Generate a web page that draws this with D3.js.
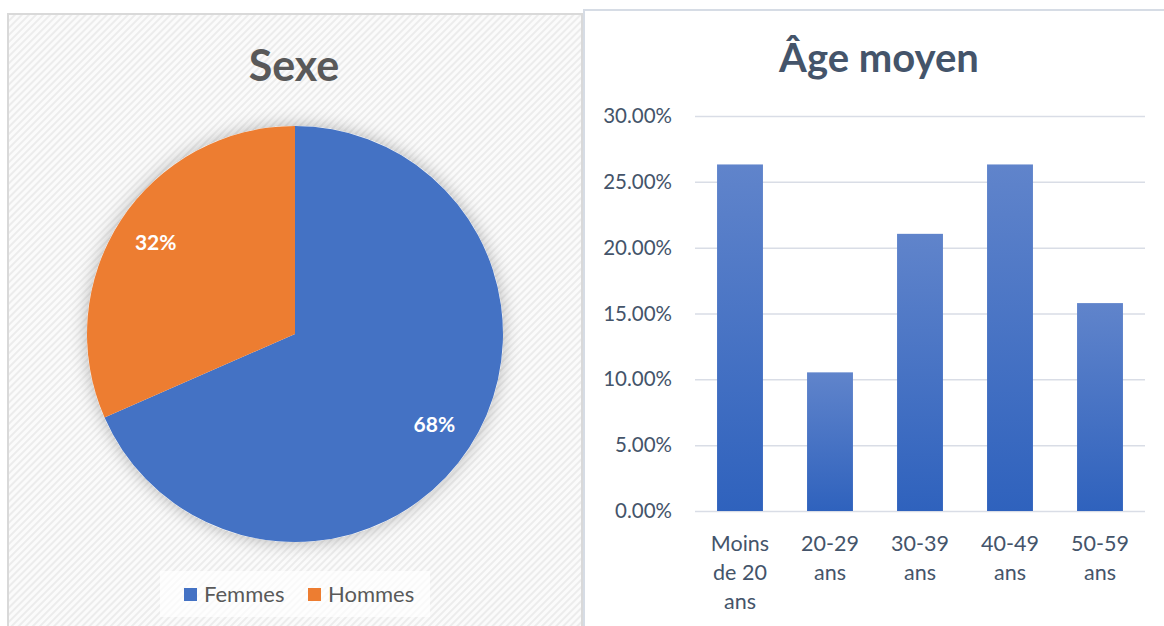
<!DOCTYPE html>
<html>
<head>
<meta charset="utf-8">
<script src="https://cdn.jsdelivr.net/npm/d3@7"></script>
<style>
  body { margin: 0; background: #fff; }
  svg { display: block; font-family: Lato, "Open Sans", sans-serif; }
</style>
</head>
<body>
<svg width="1164" height="626"></svg>
<script>
// data
const sexLabels = ['Femmes', 'Hommes'];
const sexCounts = [13, 6];
const sexColors = ['#4472c4', '#ed7d31'];

const ageGroups = [['Moins', 'de 20', 'ans'], ['20-29', 'ans'], ['30-39', 'ans'], ['40-49', 'ans'], ['50-59', 'ans']];
const ageShares = [0.2632, 0.1053, 0.2105, 0.2632, 0.1579];
const ageTicks = [0, 0.05, 0.10, 0.15, 0.20, 0.25, 0.30];

const svg = d3.select('svg');
const defs = svg.append('defs');

// hatched background for left panel
const pat = defs.append('pattern')
  .attr('id', 'hatch')
  .attr('width', 5).attr('height', 5)
  .attr('patternUnits', 'userSpaceOnUse')
  .attr('patternTransform', 'rotate(45)');
pat.append('rect').attr('width', 5).attr('height', 5).attr('fill', '#fbfbfb');
pat.append('rect').attr('width', 2).attr('height', 5).attr('fill', '#ececec');

const shadow = defs.append('filter').attr('id', 'pieShadow')
  .attr('x', '-20%').attr('y', '-20%').attr('width', '140%').attr('height', '140%');
shadow.append('feDropShadow')
  .attr('dx', 0).attr('dy', 0).attr('stdDeviation', 9)
  .attr('flood-color', '#000').attr('flood-opacity', 0.28);

const grad = defs.append('linearGradient').attr('id', 'barGrad')
  .attr('x1', 0).attr('y1', 0).attr('x2', 0).attr('y2', 1);
grad.append('stop').attr('offset', '0%').attr('stop-color', '#6084cb');
grad.append('stop').attr('offset', '100%').attr('stop-color', '#2f62bd');

// ---------- left panel: pie ----------
svg.append('rect')
  .attr('x', 8).attr('y', 14).attr('width', 574).attr('height', 620)
  .attr('fill', 'url(#hatch)')
  .attr('stroke', '#d9d9d9').attr('stroke-width', 2);

svg.append('text')
  .attr('x', 294).attr('y', 81)
  .attr('text-anchor', 'middle')
  .attr('font-size', 43).attr('font-weight', 'bold')
  .attr('fill', '#595959')
  .text('Sexe');

const pieG = svg.append('g').attr('transform', 'translate(295,334)');
const radius = 208;
const pie = d3.pie().sort(null)(sexCounts);
const arc = d3.arc().innerRadius(0).outerRadius(radius);
const total = d3.sum(sexCounts);

pieG.append('circle').attr('r', radius).attr('fill', '#fff').attr('filter', 'url(#pieShadow)');

pieG.selectAll('path.slice')
  .data(pie)
  .join('path')
  .attr('class', 'slice')
  .attr('d', arc)
  .attr('fill', (d, i) => sexColors[i]);

const labelArc = d3.arc().innerRadius(radius * 0.8).outerRadius(radius * 0.8);
pieG.selectAll('text.pct')
  .data(pie)
  .join('text')
  .attr('class', 'pct')
  .attr('transform', d => `translate(${labelArc.centroid(d)})`)
  .attr('text-anchor', 'middle')
  .attr('dy', '0.35em')
  .attr('font-size', 21).attr('font-weight', 'bold')
  .attr('fill', '#fff')
  .text(d => Math.round(d.value / total * 100) + '%');

// legend
svg.append('rect')
  .attr('x', 160).attr('y', 571).attr('width', 270).attr('height', 46)
  .attr('fill', '#fff').attr('fill-opacity', 0.7);
const legX = [184, 308];
sexLabels.forEach((lab, i) => {
  svg.append('rect')
    .attr('x', legX[i]).attr('y', 588).attr('width', 13).attr('height', 13)
    .attr('fill', sexColors[i]);
  svg.append('text')
    .attr('x', legX[i] + 20).attr('y', 602)
    .attr('font-size', 22).attr('fill', '#595959')
    .text(lab);
});

// ---------- right panel: bars ----------
svg.append('rect')
  .attr('x', 584).attr('y', 10).attr('width', 600).attr('height', 630)
  .attr('fill', '#fff')
  .attr('stroke', '#d6dce5').attr('stroke-width', 2);

svg.append('text')
  .attr('x', 879).attr('y', 72)
  .attr('text-anchor', 'middle')
  .attr('font-size', 40).attr('font-weight', 'bold')
  .attr('fill', '#44546a')
  .text('Âge moyen');

const x = d3.scaleBand().domain(d3.range(ageShares.length)).range([695, 1145]).paddingInner(0.49).paddingOuter(0.245);
const y = d3.scaleLinear().domain([0, 0.30]).range([511, 116]);

const yAxis = d3.axisLeft(y).tickValues(ageTicks).tickSize(-450).tickFormat(d => (d * 100).toFixed(2) + '%');
const yg = svg.append('g').attr('transform', 'translate(695,0)').call(yAxis);
yg.select('.domain').remove();
yg.selectAll('.tick line').attr('stroke', '#d9dde6').attr('stroke-width', 1.5);
yg.selectAll('.tick text')
  .attr('x', -23)
  .attr('font-size', 20.5).attr('fill', '#44546a')
  .attr('font-family', 'Lato, "Open Sans", sans-serif');

svg.append('g').selectAll('rect')
  .data(ageShares)
  .join('rect')
  .attr('x', (d, i) => x(i))
  .attr('y', d => y(d))
  .attr('width', x.bandwidth())
  .attr('height', d => y(0) - y(d))
  .attr('fill', 'url(#barGrad)');

const xl = svg.append('g');
ageGroups.forEach((lines, i) => {
  const t = xl.append('text')
    .attr('text-anchor', 'middle')
    .attr('font-size', 21.5).attr('fill', '#44546a');
  lines.forEach((ln, j) => {
    t.append('tspan')
      .attr('x', x(i) + x.bandwidth() / 2)
      .attr('y', 551 + j * 29)
      .text(ln);
  });
});
</script>
</body>
</html>
